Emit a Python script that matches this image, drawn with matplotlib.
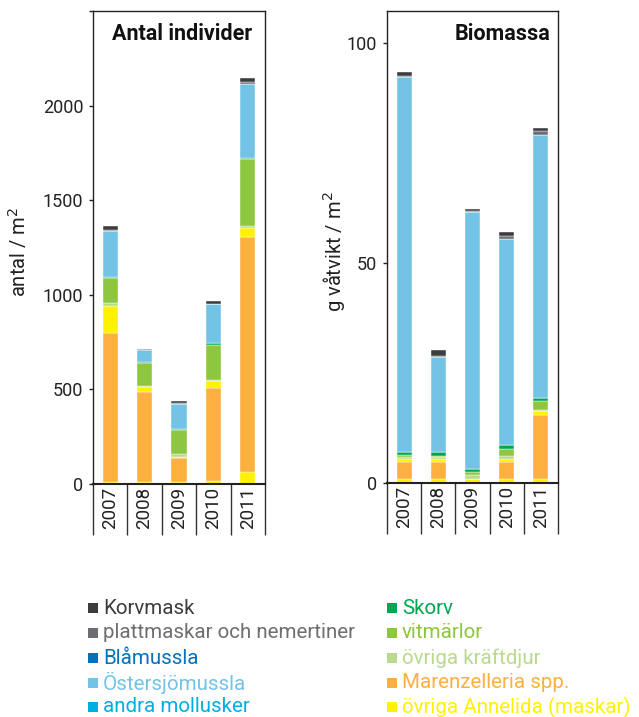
import numpy as np
import matplotlib.pyplot as plt
from matplotlib.patches import Rectangle

plt.rcParams["font.family"] = ["Roboto", "DejaVu Sans"]

# ── Data ──────────────────────────────────────────────────────────────────────
years = ["2007", "2008", "2009", "2010", "2011"]

# Antal individer (antal / m2), stacked bottom -> top
ant_annelida_low  = [10, 10, 8, 18, 63]
ant_marenzelleria = [790, 477, 128, 488, 1245]
ant_annelida      = [142, 28, 8, 39, 46]
ant_kraftdjur     = [14, 3, 13, 5, 11]
ant_vitmarlor     = [132, 121, 129, 187, 353]
ant_skorv         = [7, 5, 7, 9, 7]
ant_mollusker     = [0, 0, 0, 0, 0]
ant_ostersjo      = [242, 65, 130, 203, 388]
ant_blamussla     = [0, 0, 0, 0, 0]
ant_plattmaskar   = [4, 2, 3, 5, 12]
ant_korvmask      = [22, 5, 15, 13, 22]

# Biomassa (g våtvikt / m2), stacked bottom -> top
bio_annelida_low  = [1.0, 1.0, 1.0, 1.0, 1.0]
bio_marenzelleria = [3.8, 3.8, 0.0, 3.8, 14.4]
bio_annelida      = [0.7, 0.7, 0.0, 0.7, 0.9]
bio_kraftdjur     = [0.3, 0.3, 0.75, 0.6, 0.3]
bio_vitmarlor     = [0.5, 0.3, 0.65, 1.7, 2.0]
bio_skorv         = [0.7, 0.9, 0.8, 0.8, 0.7]
bio_mollusker     = [0.0, 0.0, 0.0, 0.0, 0.0]
bio_ostersjo      = [85.4, 21.7, 58.4, 46.9, 59.8]
bio_blamussla     = [0.0, 0.0, 0.0, 0.0, 0.0]
bio_plattmaskar   = [0.2, 0.2, 0.2, 0.7, 0.9]
bio_korvmask      = [0.8, 1.3, 0.6, 0.8, 0.8]

# ── Colours ───────────────────────────────────────────────────────────────────
C_KORV   = "#3c3c3e"
C_PLATT  = "#6d6e71"
C_BLA    = "#0072bc"
C_OST    = "#73c3e6"
C_MOLL   = "#00aee0"
C_SKORV  = "#00a651"
C_VIT    = "#8dc63f"
C_KRAFT  = "#b9da8e"
C_MAREN  = "#fbb040"
C_ANNEL  = "#fff200"

ant_stack = [
    (ant_annelida_low, C_ANNEL), (ant_marenzelleria, C_MAREN), (ant_annelida, C_ANNEL),
    (ant_kraftdjur, C_KRAFT), (ant_vitmarlor, C_VIT), (ant_skorv, C_SKORV),
    (ant_mollusker, C_MOLL), (ant_ostersjo, C_OST), (ant_blamussla, C_BLA),
    (ant_plattmaskar, C_PLATT), (ant_korvmask, C_KORV),
]
bio_stack = [
    (bio_annelida_low, C_ANNEL), (bio_marenzelleria, C_MAREN), (bio_annelida, C_ANNEL),
    (bio_kraftdjur, C_KRAFT), (bio_vitmarlor, C_VIT), (bio_skorv, C_SKORV),
    (bio_mollusker, C_MOLL), (bio_ostersjo, C_OST), (bio_blamussla, C_BLA),
    (bio_plattmaskar, C_PLATT), (bio_korvmask, C_KORV),
]

legend_left = [
    ("Korvmask", C_KORV), ("plattmaskar och nemertiner", C_PLATT),
    ("Blåmussla", C_BLA), ("Östersjömussla", C_OST), ("andra mollusker", C_MOLL),
]
legend_right = [
    ("Skorv", C_SKORV), ("vitmärlor", C_VIT), ("övriga kräftdjur", C_KRAFT),
    ("Marenzelleria spp.", C_MAREN), ("övriga Annelida (maskar)", C_ANNEL),
]

W, H = 639, 717
fig = plt.figure(figsize=(W / 100, H / 100), dpi=100)


def draw_panel(rect, stack, title, title_x, ylabel, ylim, yticks, yticklabels):
    ax = fig.add_axes(rect)
    x = np.arange(len(years))
    bottom = np.zeros(len(years))
    for vals, col in stack:
        v = np.array(vals, dtype=float)
        ax.bar(x, v, bottom=bottom, width=0.44, color=col,
               edgecolor="white", linewidth=0.3)
        bottom += v
    ax.set_xlim(-0.5, len(years) - 0.5)
    ax.set_ylim(*ylim)
    ax.set_yticks(yticks)
    ax.set_yticklabels(yticklabels)
    ax.tick_params(axis="y", direction="out", length=3, width=1,
                   labelsize=13, pad=4, colors="#222222")
    # year cells below the axis
    ax.set_xticks(np.arange(-0.5, len(years)), minor=False)
    ax.set_xticklabels([])
    ax.set_xticks(x, minor=True)
    ax.set_xticklabels(years, minor=True, rotation=90, fontsize=13.5,
                       va="top", ha="center")
    ax.tick_params(axis="x", which="major", direction="out", length=37,
                   width=1, color="#333333")
    ax.tick_params(axis="x", which="minor", length=0, pad=2, colors="#222222")
    for s in ax.spines.values():
        s.set_linewidth(1.0)
        s.set_color("#222222")
    ax.spines["bottom"].set_linewidth(1.5)
    ax.text(title_x, 0.975, title, transform=ax.transAxes, ha="right", va="top",
            fontsize=15.5, fontweight="bold", color="#111111")
    ax.set_ylabel(ylabel, fontsize=14.5, color="#222222")
    return ax


ax1 = draw_panel([93 / W, 1 - 484 / H, 172 / W, 473 / H], ant_stack,
                 "Antal individer", 0.925, "antal / m$^2$", (0, 2500),
                 [0, 500, 1000, 1500, 2000, 2500],
                 ["0", "500", "1000", "1500", "2000", ""])
ax1.yaxis.set_label_coords(-0.37, 0.49)

ax2 = draw_panel([387 / W, 1 - 483 / H, 171 / W, 472 / H], bio_stack,
                 "Biomassa", 0.955, "g våtvikt / m$^2$", (0, 107.3),
                 [0, 50, 100], ["0", "50", "100"])
ax2.yaxis.set_label_coords(-0.235, 0.49)

# ── Legend ────────────────────────────────────────────────────────────────────
row_y = [608, 633, 658, 683, 707]
for col_x, entries in ((88, legend_left), (387, legend_right)):
    for (label, col), yy in zip(entries, row_y):
        fig.add_artist(Rectangle(((col_x) / W, 1 - (yy + 5) / H), 10 / W, 10 / H,
                                 transform=fig.transFigure, color=col, lw=0))
        fig.text((col_x + 15) / W, 1 - yy / H, label, color=col,
                 fontsize=14.8, ha="left", va="center")

plt.savefig("out.png", dpi=100)
plt.close()
